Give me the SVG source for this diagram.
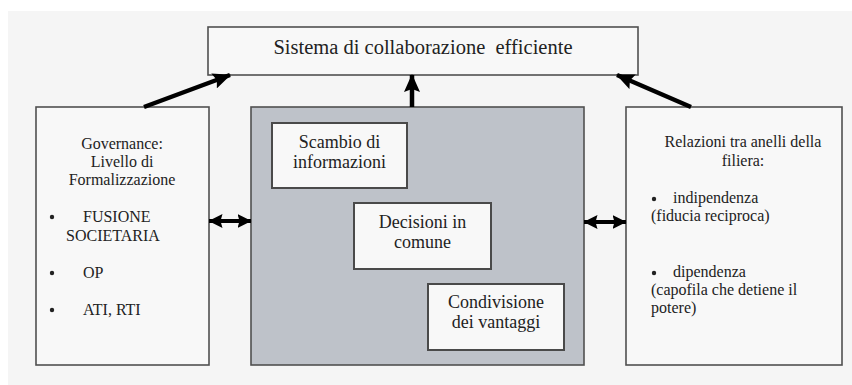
<svg xmlns="http://www.w3.org/2000/svg" width="852" height="385" viewBox="0 0 852 385">
<defs>
<style>
.box{fill:#f8f8f8;stroke:#505050;stroke-width:1.6}
.inner{fill:#f8f8f8;stroke:#4a4a4a;stroke-width:2}
.panel{fill:#bec2c9;stroke:#505050;stroke-width:1.6}
.t{font-family:"Liberation Serif","Times New Roman",serif;fill:#222222}
.c{text-anchor:middle}
.s16{font-size:16px}
.s18{font-size:18px}
.dot{fill:#222222}
.ar{stroke:#000;stroke-width:4.5;fill:none}
.dar{stroke:#000;stroke-width:4;fill:none}
</style>
<marker id="head" markerUnits="userSpaceOnUse" viewBox="0 0 18 16" refX="17" refY="8" markerWidth="18" markerHeight="16" orient="auto-start-reverse">
<path d="M0,0 L18,8 L0,16 L3,8 Z" fill="#000"/>
</marker>
<marker id="dhead" markerUnits="userSpaceOnUse" viewBox="0 0 14 14" refX="13.5" refY="7" markerWidth="14" markerHeight="14" orient="auto-start-reverse">
<path d="M0,0 L14,7 L0,14 L2,7 Z" fill="#000"/>
</marker>
</defs>
<rect x="0" y="0" width="852" height="385" fill="#ffffff"/>
<rect x="8" y="11" width="844" height="374" fill="#f5f5f5"/>

<g id="top">
<rect class="box" x="208" y="27" width="430" height="48"/>
<text class="t c" x="423" y="54" style="font-size:20.5px" xml:space="preserve">Sistema di collaborazione  efficiente</text>
</g>

<g id="governance">
<rect class="box" x="36" y="107" width="173" height="258"/>
<text class="t c s16" x="122" y="149">Governance:</text>
<text class="t c s16" x="122" y="167">Livello di</text>
<text class="t c s16" x="122" y="185">Formalizzazione</text>
<circle class="dot" cx="52" cy="217" r="2.2"/>
<text class="t s16" x="83" y="222">FUSIONE</text>
<text class="t s16" x="66" y="241">SOCIETARIA</text>
<circle class="dot" cx="52" cy="273" r="2.2"/>
<text class="t s16" x="83" y="278">OP</text>
<circle class="dot" cx="52" cy="310" r="2.2"/>
<text class="t s16" x="83" y="315">ATI, RTI</text>
</g>

<g id="center">
<rect class="panel" x="251" y="107" width="333" height="258"/>
</g>

<g id="scambio">
<rect class="inner" x="272" y="123" width="135" height="65"/>
<text class="t c s18" x="339.5" y="148">Scambio di</text>
<text class="t c s18" x="339.5" y="168">informazioni</text>
</g>

<g id="decisioni">
<rect class="inner" x="354" y="203" width="137" height="66"/>
<text class="t c s18" x="422.5" y="228">Decisioni in</text>
<text class="t c s18" x="422.5" y="248">comune</text>
</g>

<g id="condivisione">
<rect class="inner" x="428" y="284" width="136" height="66"/>
<text class="t c s18" x="496" y="308">Condivisione</text>
<text class="t c s18" x="496" y="328">dei vantaggi</text>
</g>

<g id="relazioni">
<rect class="box" x="626" y="107" width="216" height="258"/>
<text class="t c s16" x="743" y="147">Relazioni tra anelli della</text>
<text class="t c s16" x="743" y="166">filiera:</text>
<circle class="dot" cx="654" cy="199" r="2.2"/>
<text class="t s16" x="673" y="203">indipendenza</text>
<text class="t s16" x="651" y="221">(fiducia reciproca)</text>
<circle class="dot" cx="654" cy="273" r="2.2"/>
<text class="t s16" x="673" y="277">dipendenza</text>
<text class="t s16" x="651" y="295">(capofila che detiene il</text>
<text class="t s16" x="651" y="313">potere)</text>
</g>

<g id="connectors">
<line class="ar" x1="144" y1="107" x2="230" y2="75" marker-end="url(#head)"/>
<line class="ar" x1="412" y1="107" x2="412" y2="75" marker-end="url(#head)"/>
<line class="ar" x1="691" y1="107" x2="617" y2="75" marker-end="url(#head)"/>
<line class="dar" x1="209" y1="221" x2="251" y2="221" marker-start="url(#dhead)" marker-end="url(#dhead)"/>
<line class="dar" x1="584" y1="222" x2="626" y2="222" marker-start="url(#dhead)" marker-end="url(#dhead)"/>
</g>
</svg>
